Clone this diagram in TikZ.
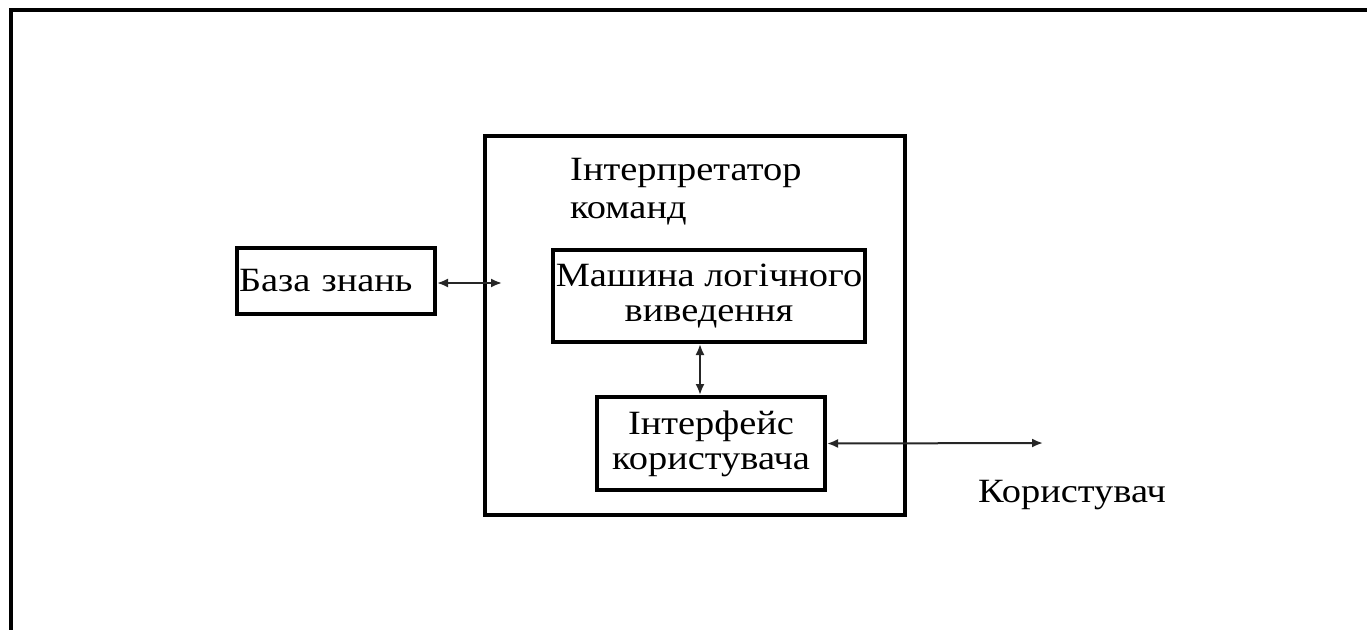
\documentclass[tikz,border=0pt]{standalone}
\usepackage{fontspec}
\setmainfont[FakeStretch=1.13]{Liberation Serif}
\usetikzlibrary{arrows.meta}
\tikzset{
  frame/.style={line width=4pt, line cap=rect},
  block/.style={draw, line width=4pt, inner sep=0pt, align=center,
                font=\fontsize{34}{35}\selectfont},
  label/.style={inner sep=0pt, align=left, font=\fontsize{34}{38}\selectfont},
  link/.style={line width=2pt, draw=black!85,
               {Latex[length=11pt,width=9pt]}-{Latex[length=11pt,width=9pt]}}
}
\begin{document}
\begin{tikzpicture}[x=1pt, y=-1pt]
  \useasboundingbox (0,0) rectangle (1367,629);
  % outer frame (only the left and top edges are visible)
  \draw[frame] (11,640) -- (11,10) -- (1375,10);

  % command interpreter
  \node[block, minimum width=420pt, minimum height=379pt] (interp) at (695,325.5) {};
  \node[label, anchor=north west] (title) at (570,158) {Інтерпретатор\\команд};

  \node[block, minimum width=312pt, minimum height=92pt] (engine) at (709,296)
    {Машина логічного\\виведення};
  \node[block, minimum width=228pt, minimum height=93pt] (ui) at (711,443.5)
    {Інтерфейс\\користувача};

  \node[block, text width=194pt, align=left, inner xsep=2pt,
        minimum height=66pt] (kb) at (336,281) {База знань};

  \node[label] (user) at (1072,495) {Користувач};

  \coordinate (kbend) at (502,283);
  \coordinate (userend) at (1043,443);

  \draw[link] (kb.east |- kbend) -- (kbend);
  \draw[link] ([xshift=-9pt]engine.south) -- ([xshift=-11pt]ui.north);
  \draw[link] (ui.east) -- (userend);
\end{tikzpicture}
\end{document}
